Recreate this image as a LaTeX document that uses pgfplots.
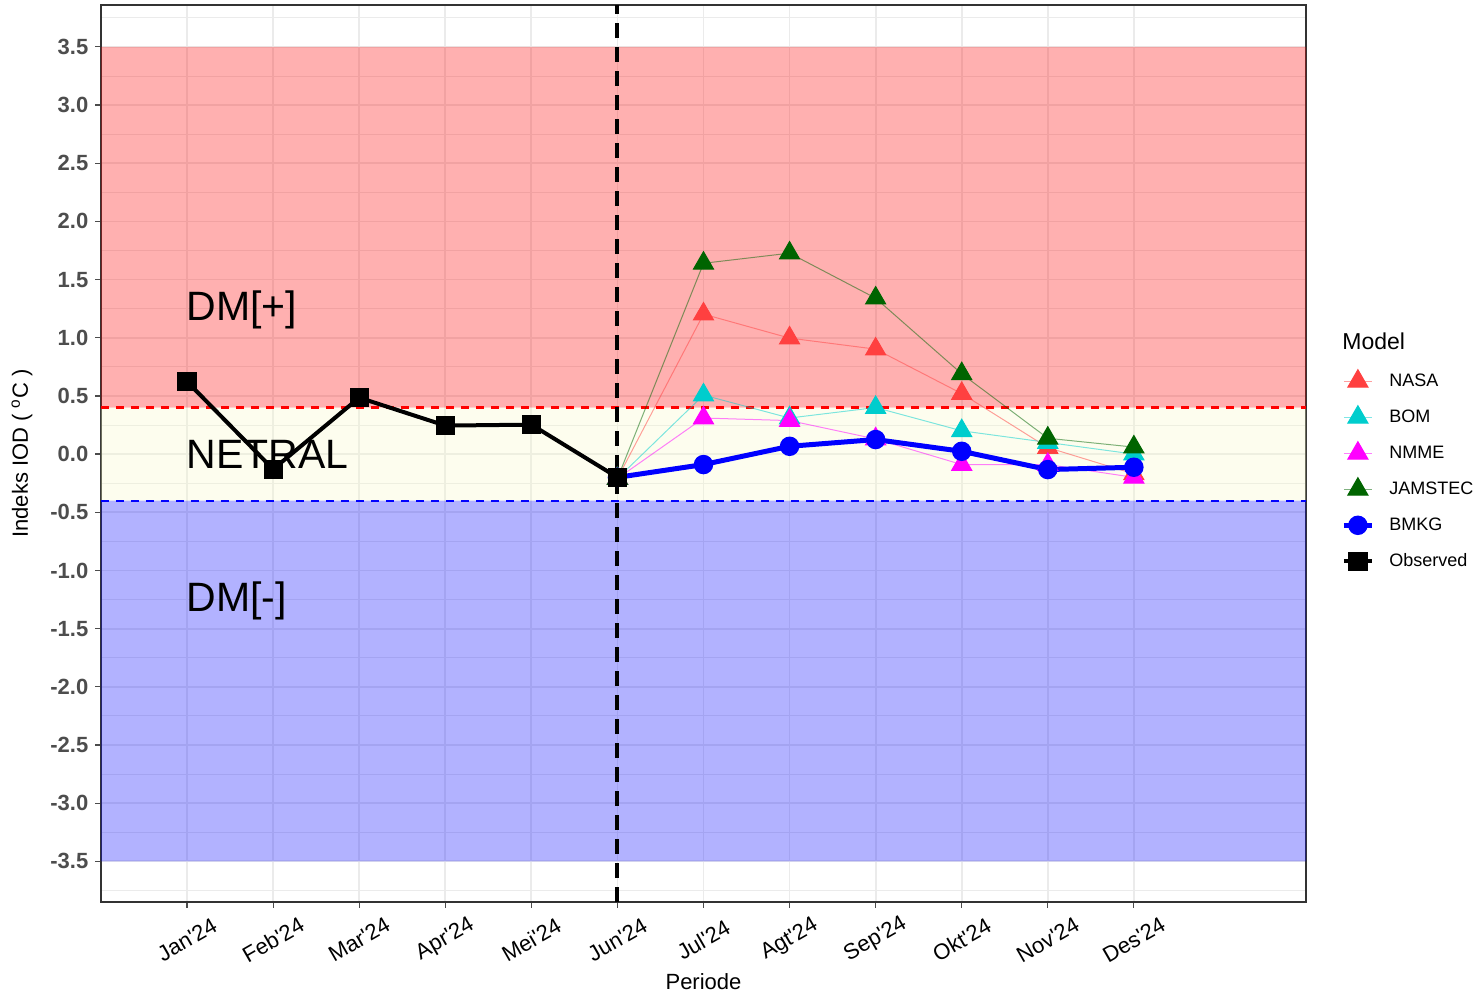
\documentclass[border=0pt]{standalone}
\usepackage{fontspec}
\setmainfont{Liberation Sans}
\usepackage{pgfplots}
\pgfplotsset{compat=1.18}
\definecolor{nasa}{HTML}{FF4040}
\definecolor{bom}{HTML}{00CDCD}
\definecolor{nmme}{HTML}{FF00FF}
\definecolor{jam}{HTML}{006400}
\definecolor{gridc}{HTML}{EBEBEB}
\definecolor{tickc}{HTML}{4D4D4D}
\definecolor{netral}{RGB}{248,250,200}
\begin{document}
\begin{tikzpicture}
\begin{axis}[
  width=602.5pt, height=448.5pt, scale only axis,
  xmin=0, xmax=14, ymin=-3.85, ymax=3.86,
  axis line style={draw=black!80, line width=0.6pt},
  tick align=outside, major tick length=2.8pt, minor tick length=0pt,
  xtick pos=bottom, ytick pos=left,
  tick style={draw=black!70, line width=0.6pt},
  xtick={1,...,12},
  xticklabels={Jan\textquotesingle24,Feb\textquotesingle24,Mar\textquotesingle24,Apr\textquotesingle24,Mei\textquotesingle24,Jun\textquotesingle24,Jul\textquotesingle24,Agt\textquotesingle24,Sep\textquotesingle24,Okt\textquotesingle24,Nov\textquotesingle24,Des\textquotesingle24},
  xticklabel style={font=\fontsize{11}{13}\selectfont, yshift=-16pt, rotate=30, anchor=center},
  ytick={-3.5,-3,...,3.5},
  minor ytick={-3.75,-3.25,...,3.75},
  yticklabel style={font=\fontsize{11}{13}\selectfont\bfseries, text=tickc,
    /pgf/number format/.cd, fixed, fixed zerofill, precision=1, assume math mode=true},
  xmajorgrids, ymajorgrids, yminorgrids,
  major grid style={draw=gridc, line width=0.9pt},
  minor grid style={draw=gridc, line width=0.45pt},
  xlabel={Periode},
  xlabel style={at={(axis description cs:0.5,-0.0892)}, anchor=center, font=\fontsize{11}{13}\selectfont},
  ylabel={Indeks IOD ( \textsuperscript{o}C )},
  ylabel style={at={(axis description cs:-0.0656,0.5)}, anchor=center, font=\fontsize{11}{13}\selectfont},
  legend image code/.code={\draw[mark repeat=2,mark phase=2] plot coordinates {(0pt,0pt)(7pt,0pt)(14pt,0pt)};},
  legend style={at={(1,0.601)}, anchor=north west, xshift=17.5pt, draw=none, fill=none,
    inner sep=0pt, font=\fontsize{9}{11}\selectfont, nodes={minimum height=18pt, inner sep=0pt},
    column sep=7.5pt, row sep=0pt},
  legend cell align=left,
  clip=true,
]
% background regions
\addplot[draw=none, fill=red, fill opacity=0.31, forget plot] coordinates {(0,0.4)(14,0.4)(14,3.5)(0,3.5)(0,0.4)};
\addplot[draw=none, fill=netral, fill opacity=0.3, forget plot] coordinates {(0,-0.4)(14,-0.4)(14,0.4)(0,0.4)(0,-0.4)};
\addplot[draw=none, fill=blue, fill opacity=0.3, forget plot] coordinates {(0,-3.5)(14,-3.5)(14,-0.4)(0,-0.4)(0,-3.5)};
% threshold lines
\addplot[draw=red, line width=1.1pt, dash pattern=on 4pt off 3.5pt, forget plot] coordinates {(0,0.4)(14,0.4)};
\addplot[draw=blue, line width=1.1pt, dash pattern=on 4pt off 3.5pt, forget plot] coordinates {(0,-0.4)(14,-0.4)};
\addplot[black, line width=2pt, dash pattern=on 7.5pt off 4.5pt, forget plot] coordinates {(6,-3.85)(6,3.86)};
% models
\addplot[nasa, draw opacity=0.5, line width=0.5pt, mark=triangle*, mark size=5.8pt, mark options={draw=none, fill=nasa, opacity=1}]
 coordinates {(6,-0.21)(7,1.203)(8,0.997)(9,0.902)(10,0.52)(11,0.056)(12,-0.17)};
\addlegendentry{NASA}
\addplot[bom, draw opacity=0.5, line width=0.5pt, mark=triangle*, mark size=5.8pt, mark options={draw=none, fill=bom, opacity=1}]
 coordinates {(6,-0.21)(7,0.507)(8,0.31)(9,0.40)(10,0.20)(11,0.10)(12,0.0)};
\addlegendentry{BOM}
\addplot[nmme, draw opacity=0.5, line width=0.5pt, mark=triangle*, mark size=5.8pt, mark options={draw=none, fill=nmme, opacity=1}]
 coordinates {(6,-0.21)(7,0.31)(8,0.288)(9,0.13)(10,-0.09)(11,-0.09)(12,-0.2)};
\addlegendentry{NMME}
\addplot[jam, draw opacity=0.5, line width=0.5pt, mark=triangle*, mark size=5.8pt, mark options={draw=none, fill=jam, opacity=1}]
 coordinates {(6,-0.21)(7,1.64)(8,1.727)(9,1.34)(10,0.69)(11,0.136)(12,0.06)};
\addlegendentry{JAMSTEC}
\addplot[blue, line width=2.5pt, mark=*, mark size=3.6pt, mark options={draw=none, fill=blue}]
 coordinates {(6,-0.20)(7,-0.09)(8,0.067)(9,0.125)(10,0.024)(11,-0.133)(12,-0.113)};
\addlegendentry{BMKG}
\addplot[black, line width=2pt, mark=square*, mark size=3.8pt, mark options={draw=none, fill=black}]
 coordinates {(1,0.623)(2,-0.13)(3,0.485)(4,0.245)(5,0.253)(6,-0.20)};
\addlegendentry{Observed}
% region labels
\node[anchor=west, inner sep=0pt, font=\fontsize{20.5}{24}\selectfont] at (axis cs:0.99,1.24) {DM[+]};
\node[anchor=west, inner sep=0pt, font=\fontsize{20.5}{24}\selectfont] at (axis cs:0.99,0.0) {NETRAL};
\node[anchor=west, inner sep=0pt, font=\fontsize{20.5}{24}\selectfont] at (axis cs:0.99,-1.26) {DM[-]};
\end{axis}
\node[anchor=west, inner sep=0pt, font=\fontsize{11.5}{13}\selectfont] at (620.5pt,280.5pt) {Model};
\pgfresetboundingbox
\path (-50.5pt,-45.5pt) rectangle (686pt,451pt);
\end{tikzpicture}
\end{document}
